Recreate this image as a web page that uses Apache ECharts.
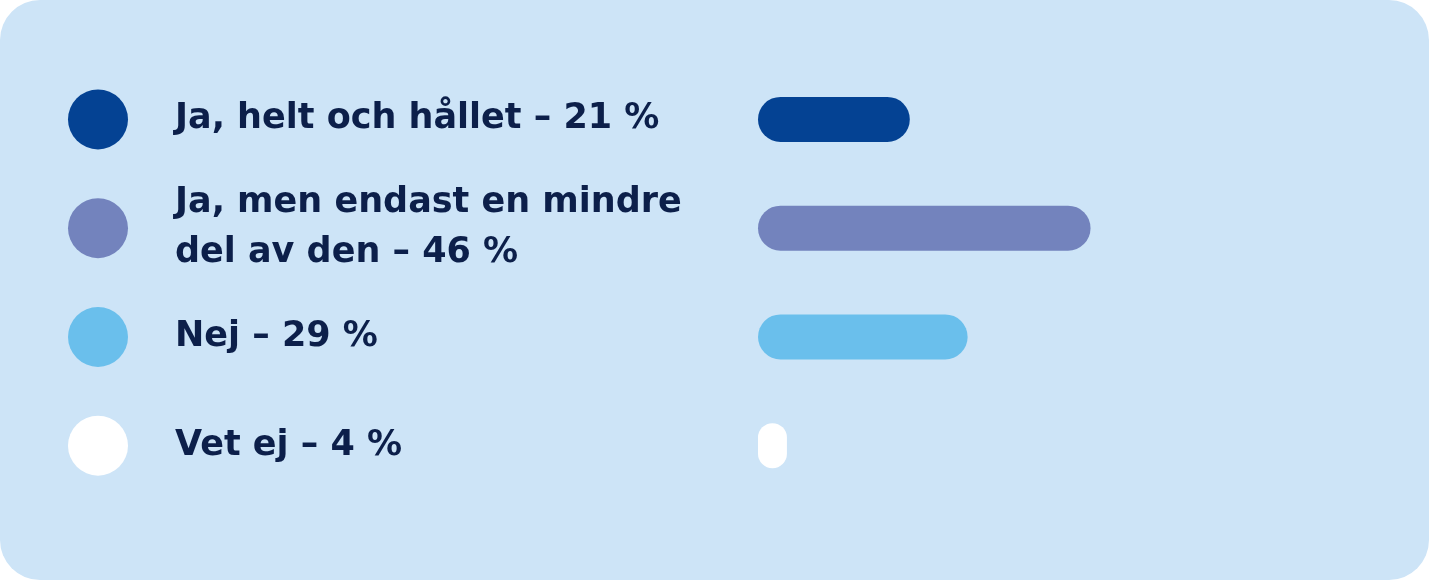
<!DOCTYPE html><html><head><meta charset="utf-8">
<script src="https://cdn.jsdelivr.net/npm/echarts@6/dist/echarts.min.js"></script>
<style>html,body{margin:0;padding:0;background:#fff}#c{width:1429px;height:580px}</style></head><body><div id="c"></div>
<script>
const categories = ['Ja, helt och hållet – 21 %', 'Ja, men endast en mindre\ndel av den – 46 %', 'Nej – 29 %', 'Vet ej – 4 %'];
const values = [21, 46, 29, 4];
const colors = ['#044293', '#7383bd', '#6abfec', '#ffffff'];
const chart = echarts.init(document.getElementById('c'));
const cat = {type:'category', data:categories, inverse:true, axisLine:{show:false}, axisTick:{show:false}};
chart.setOption({
  graphic:[{type:'rect', shape:{x:0,y:0,width:1429,height:580,r:40}, style:{fill:'#cde4f7'}, z:-10}],
  grid:[{left:68,width:60,top:65,bottom:80},{left:758,right:71,top:65,bottom:80}],
  xAxis:[{type:'value',gridIndex:0,min:-1,max:1,show:false},{type:'value',gridIndex:1,min:0,max:83,show:false}],
  yAxis:[Object.assign({gridIndex:0,axisLabel:{show:false}},cat),
         Object.assign({gridIndex:1,axisLabel:{margin:583,align:'left',fontFamily:'DejaVu Sans',fontWeight:'bold',fontSize:35,lineHeight:50,color:'#0c1f4a'}},cat)],
  series:[
    {type:'scatter',xAxisIndex:0,yAxisIndex:0,symbolSize:60,data:categories.map((c,i)=>({value:[0,c],itemStyle:{color:colors[i],opacity:1}})),silent:true},
    {type:'bar',xAxisIndex:1,yAxisIndex:1,barWidth:45,data:values.map((v,i)=>({value:v,itemStyle:{color:colors[i],borderRadius:23}})),silent:true}
  ]
});
</script></body></html>
